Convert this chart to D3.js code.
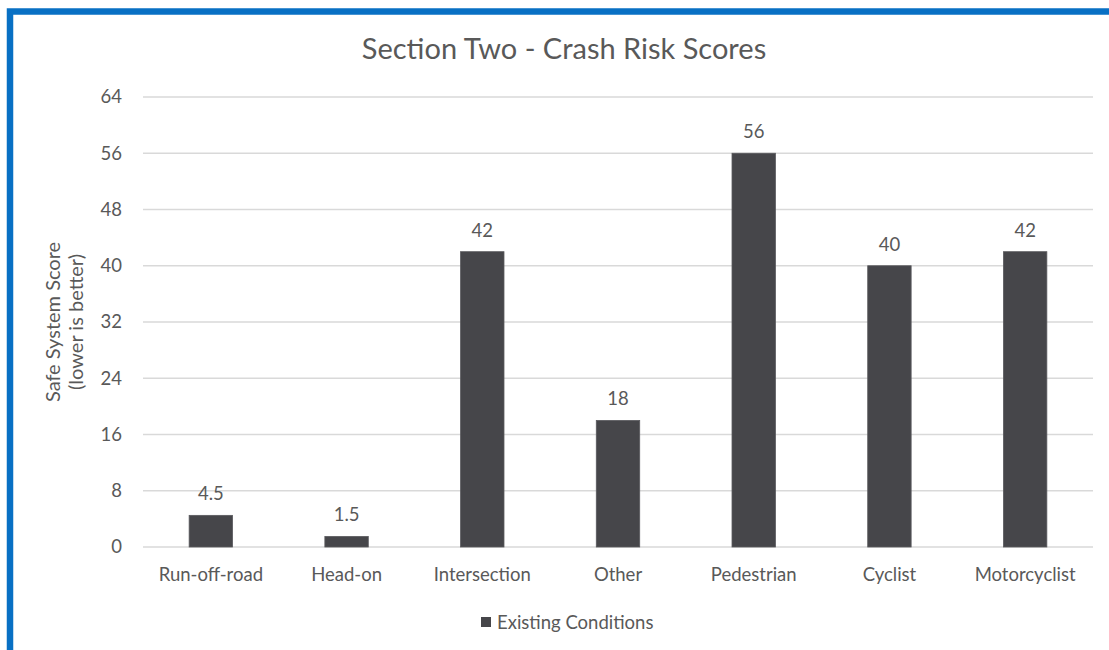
<!DOCTYPE html>
<html lang="en">
<head>
    <meta charset="UTF-8">
    <title>Section Two - Crash Risk Scores</title>
    <script src="https://cdn.jsdelivr.net/npm/d3@7/dist/d3.min.js"></script>
    <style>
        body { margin: 0; background: #fff; }
        text { font-family: Lato, "Open Sans", sans-serif; fill: #595959; }
    </style>
</head>
<body>
<script>
    // data
    const categories = ["Run-off-road", "Head-on", "Intersection", "Other", "Pedestrian", "Cyclist", "Motorcyclist"];
    const existing = [4.5, 1.5, 42, 18, 56, 40, 42];
    const yTicks = [0, 8, 16, 24, 32, 40, 48, 56, 64];
    const seriesName = "Existing Conditions";

    const width = 1109, height = 650;
    const margin = {top: 97, right: 16, bottom: 103, left: 143};
    const barColor = "#46464a";
    const fs = 18.5;

    const svg = d3.select("body").append("svg")
        .attr("width", width)
        .attr("height", height);

    // blue frame (top and left edges visible)
    svg.append("path")
        .attr("d", `M10,${height} L10,11.5 L${width},11.5`)
        .attr("fill", "none")
        .attr("stroke", "#0870c4")
        .attr("stroke-width", 6.5);

    const x = d3.scaleBand()
        .domain(categories)
        .range([margin.left, width - margin.right])
        .paddingInner(0.68)
        .paddingOuter(0.34);

    const y = d3.scaleLinear()
        .domain([0, 64])
        .range([height - margin.bottom, margin.top]);

    // gridlines
    svg.append("g")
        .selectAll("line")
        .data(yTicks)
        .join("line")
        .attr("x1", margin.left)
        .attr("x2", width - margin.right)
        .attr("y1", d => y(d))
        .attr("y2", d => y(d))
        .attr("stroke", "#d9d9d9")
        .attr("stroke-width", 1.3);

    // y axis labels
    const yAxis = d3.axisLeft(y).tickValues(yTicks).tickSize(0).tickPadding(21);
    const gy = svg.append("g")
        .attr("transform", `translate(${margin.left},0)`)
        .call(yAxis);
    gy.select(".domain").remove();
    gy.selectAll("text").attr("font-size", fs).style("fill", "#595959")
        .style("font-family", "Lato, sans-serif");

    // x axis labels
    const xAxis = d3.axisBottom(x).tickSize(0).tickPadding(21);
    const gx = svg.append("g")
        .attr("transform", `translate(0,${height - margin.bottom})`)
        .call(xAxis);
    gx.select(".domain").remove();
    gx.selectAll("text").attr("font-size", fs).style("fill", "#595959")
        .style("font-family", "Lato, sans-serif");

    // bars
    svg.append("g")
        .selectAll("rect")
        .data(existing)
        .join("rect")
        .attr("x", (d, i) => x(categories[i]))
        .attr("y", d => y(d))
        .attr("width", x.bandwidth())
        .attr("height", d => y(0) - y(d))
        .attr("fill", barColor)
        .attr("stroke", "#5a5a5e")
        .attr("stroke-width", 0.8);

    // data labels
    svg.append("g")
        .selectAll("text")
        .data(existing)
        .join("text")
        .attr("x", (d, i) => x(categories[i]) + x.bandwidth() / 2)
        .attr("y", d => y(d) - 15)
        .attr("text-anchor", "middle")
        .attr("font-size", fs)
        .text(d => d);

    // title
    svg.append("text")
        .attr("x", 564)
        .attr("y", 59)
        .attr("text-anchor", "middle")
        .attr("font-size", 29)
        .text("Section Two - Crash Risk Scores");

    // y axis title
    const yt = svg.append("text")
        .attr("transform", `translate(60,${(y(0) + y(64)) / 2}) rotate(-90)`)
        .attr("text-anchor", "middle")
        .attr("font-size", 20);
    yt.append("tspan").attr("x", 0).attr("dy", 0).text("Safe System Score");
    yt.append("tspan").attr("x", 0).attr("dy", 22.5).text("(lower is better)");

    // legend
    const lg = svg.append("g").attr("transform", "translate(481,622)");
    lg.append("rect")
        .attr("x", 0).attr("y", -5)
        .attr("width", 10).attr("height", 10)
        .attr("fill", barColor);
    lg.append("text")
        .attr("x", 16).attr("y", 6.5)
        .attr("font-size", fs)
        .text(seriesName);
</script>
</body>
</html>
